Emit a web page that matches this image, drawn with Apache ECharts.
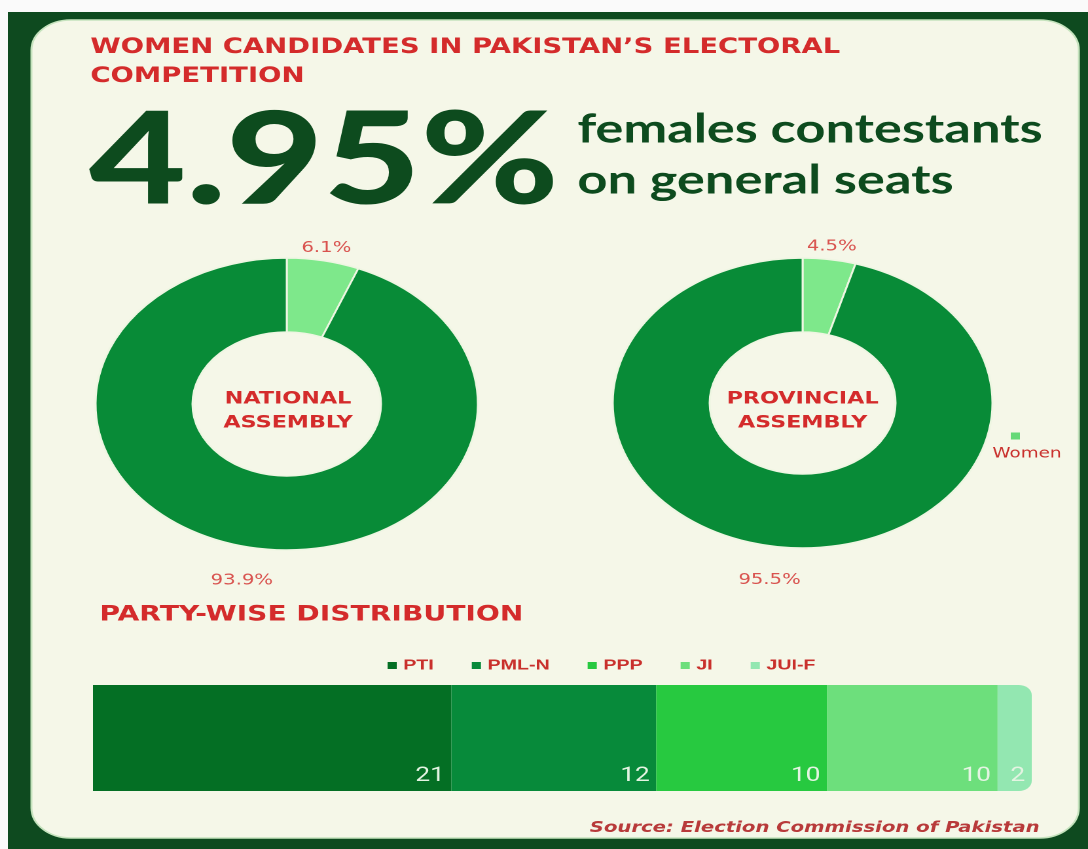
<!DOCTYPE html>
<html>
<head>
<meta charset="utf-8">
<title>Women candidates in Pakistan's electoral competition</title>
<script src="https://cdn.jsdelivr.net/npm/echarts@6/dist/echarts.min.js"></script>
<style>
    html, body { margin: 0; padding: 0; background: #fafafa; overflow: hidden; }
    /* the source image is stretched sideways, so draw narrow and stretch the same way */
    #chart { width: 831px; height: 849px; transform: scaleX(1.30927); transform-origin: 0 0; }
</style>
</head>
<body>
<div id="chart"></div>
<script>
// slices of the two donuts
const donutSlices = ['Women', 'Men']
const nationalShare = [6.1, 93.9]   // national assembly, %
const provincialShare = [4.5, 95.5] // provincial assembly, %

// party-wise distribution of women candidates
const parties = ['PTI', 'PML-N', 'PPP', 'JI', 'JUI-F']
const partyCounts = [21, 12, 10, 10, 2]

const donutColors = ['#7ee88b', '#088b37']
const partyColors = ['#046f24', '#078a3a', '#27c940', '#6ddf7c', '#93e7b1']
const labelReach = [13, 34] // how far each slice label sits out from the ring
const red = '#d42b2b'

let chart = echarts.init(document.getElementById('chart'), null, {devicePixelRatio: 2})

// pie puts outside labels beside the anchor, here they are centred on it
function centreLabel (p) {
    let w = p.labelRect.width
    return {dx: p.align === 'left' ? -w / 2 : (p.align === 'right' ? w / 2 : 0)}
}

function donut (name, values, center, radius) {
    return {
        name: name,
        type: 'pie',
        center: center,
        radius: radius,
        startAngle: 90,
        clockwise: true,
        avoidLabelOverlap: false,
        silent: true,
        label: {
            show: true,
            position: 'outside',
            formatter: '{c}%',
            color: '#d9534f',
            fontSize: 15,
            fontFamily: 'DejaVu Sans',
            distanceToLabelLine: 0
        },
        labelLine: {show: false, length2: 0},
        labelLayout: centreLabel,
        itemStyle: {borderColor: '#eef6e2', borderWidth: 1.5},
        data: values.map((v, i) => ({
            name: donutSlices[i],
            value: v,
            itemStyle: {color: donutColors[i]},
            labelLine: {length: labelReach[i]}
        }))
    }
}

let total = partyCounts.reduce((a, b) => a + b, 0)

let barSeries = parties.map((p, i) => ({
    name: p,
    type: 'bar',
    stack: 'all',
    barWidth: 106,
    silent: true,
    itemStyle: {
        color: partyColors[i],
        borderRadius: i === parties.length - 1 ? [0, 10, 10, 0] : 0
    },
    label: {
        show: true,
        position: 'insideBottomRight',
        distance: 5,
        formatter: '{c}',
        color: '#e4f4e2',
        fontSize: 20,
        fontFamily: '"Liberation Sans Narrow", Roboto, sans-serif'
    },
    data: [partyCounts[i]]
}))

chart.setOption({
    animation: false,
    backgroundColor: '#fafafa',
    graphic: [
        {type: 'rect', z: 0, silent: true, shape: {x: 6, y: 12, width: 830, height: 840}, style: {fill: '#0e4a1f'}},
        {type: 'rect', z: 0, silent: true, shape: {x: 24, y: 20, width: 800, height: 818, r: 30},
            style: {fill: '#f5f7e8', stroke: '#c5e3bd', lineWidth: 1.5}}
    ],
    title: [
        {
            text: 'WOMEN CANDIDATES IN PAKISTAN\u2019S ELECTORAL\nCOMPETITION',
            left: 69, top: 33, padding: 0,
            textStyle: {color: red, fontSize: 21, fontWeight: 'bold', fontFamily: 'DejaVu Sans', lineHeight: 29}
        },
        {
            text: '4.95%',
            left: 68, top: 98, padding: 0,
            textStyle: {color: '#0d4b1e', fontSize: 128, fontWeight: 900, fontFamily: 'Lato', lineHeight: 128}
        },
        {
            text: 'females contestants\non general seats',
            left: 441, top: 104, padding: 0,
            textStyle: {color: '#0d4b1e', fontSize: 40, fontWeight: 'bold', fontFamily: 'Lato', lineHeight: 51}
        },
        {
            text: 'NATIONAL\nASSEMBLY',
            left: 220, top: 387, padding: 0, textAlign: 'center',
            textStyle: {color: red, fontSize: 17, fontWeight: 'bold', fontFamily: 'DejaVu Sans', lineHeight: 24}
        },
        {
            text: 'PROVINCIAL\nASSEMBLY',
            left: 613, top: 387, padding: 0, textAlign: 'center',
            textStyle: {color: red, fontSize: 17, fontWeight: 'bold', fontFamily: 'DejaVu Sans', lineHeight: 24}
        },
        {
            text: 'PARTY-WISE DISTRIBUTION',
            left: 76, top: 604, padding: 0,
            textStyle: {color: red, fontSize: 21.5, fontWeight: 'bold', fontFamily: 'DejaVu Sans', lineHeight: 22}
        },
        {
            text: 'Source: Election Commission of Pakistan',
            right: 37, top: 818, padding: 0,
            textStyle: {color: '#b83a3a', fontSize: 15, fontWeight: 'bold', fontStyle: 'italic', fontFamily: 'DejaVu Sans', lineHeight: 20}
        }
    ],
    legend: [
        {
            data: parties,
            left: 291, top: 653,
            itemGap: 29,
            itemWidth: 7, itemHeight: 7,
            icon: 'rect',
            selectedMode: false,
            textStyle: {color: '#c9302c', fontSize: 15, fontWeight: 'bold', fontFamily: 'Liberation Sans'}
        },
        {
            // the swatch sits above the name here, so it is drawn in the label
            data: ['Women'],
            left: 748, top: 425,
            itemWidth: 0, itemHeight: 7,
            icon: 'none',
            selectedMode: false,
            formatter: name => '{gap|}{sq|}\n{t|' + name + '}',
            textStyle: {
                rich: {
                    gap: {width: 14, height: 7, lineHeight: 20},
                    sq: {width: 7, height: 7, lineHeight: 20, backgroundColor: '#66d978'},
                    t: {color: '#c9302c', fontSize: 14, fontFamily: 'DejaVu Sans', lineHeight: 16}
                }
            }
        }
    ],
    grid: {left: 71, top: 685, width: 717, height: 106},
    xAxis: {type: 'value', min: 0, max: total, show: false},
    yAxis: {type: 'category', data: ['Women candidates'], show: false},
    series: [
        donut('National Assembly', nationalShare, [219, 404], [72, 146]),
        donut('Provincial Assembly', provincialShare, [613, 403], [71, 145])
    ].concat(barSeries)
})

window.addEventListener('resize', function () {
    chart.resize()
})
</script>
</body>
</html>
